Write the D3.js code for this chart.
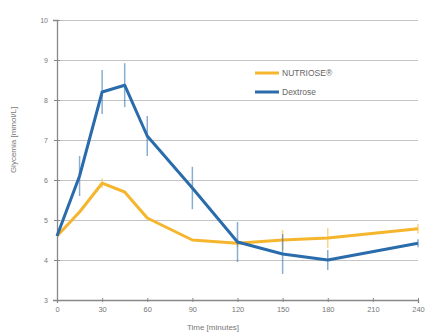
<!DOCTYPE html>
<html>
<head>
<meta charset="utf-8">
<script src="https://cdn.jsdelivr.net/npm/d3@7"></script>
<style>
  body { margin: 0; background: #fff; }
  text { font-family: "Liberation Sans", Arial, sans-serif; }
</style>
</head>
<body>
<div id="graph"></div>
<script>
// data
var times = [0, 15, 30, 45, 60, 90, 120, 150, 180, 240];
var nutrioseMean = [4.6, 5.2, 5.92, 5.7, 5.05, 4.5, 4.42, 4.5, 4.55, 4.78];
var nutrioseErr  = [0, 0, 0.12, 0, 0, 0, 0.1, 0.25, 0.25, 0.12];
var dextroseMean = [4.6, 6.1, 8.2, 8.37, 7.1, 5.8, 4.45, 4.15, 4.0, 4.42];
var dextroseErr  = [0, 0.5, 0.55, 0.55, 0.5, 0.53, 0.5, 0.5, 0.25, 0.1];
var xTicks = [0, 30, 60, 90, 120, 150, 180, 210, 240];
var yTicks = [3, 4, 5, 6, 7, 8, 9, 10];
var seriesNames = ["NUTRIOSE\u00ae", "Dextrose"];

var W = 427, H = 334;
var margin = {top: 20, right: 9, bottom: 34, left: 57},
    width = W - margin.left - margin.right,
    height = H - margin.top - margin.bottom;

var x = d3.scaleLinear().domain([0, 240]).range([0, width]);
var y = d3.scaleLinear().domain([3, 10]).range([height, 0]);

var svg = d3.select("#graph").append("svg")
    .attr("width", W)
    .attr("height", H)
  .append("g")
    .attr("transform", "translate(" + margin.left + "," + margin.top + ")");

// gridlines
svg.append("g")
    .attr("class", "grid")
    .call(d3.axisLeft(y).tickValues(yTicks.slice(1)).tickSize(-width).tickFormat(""))
    .call(g => g.select(".domain").remove())
    .call(g => g.selectAll("line").attr("stroke", "#c4c4c4").attr("stroke-width", 1.2));

// y axis
svg.append("g")
    .call(d3.axisLeft(y).tickValues(yTicks).tickFormat(d3.format("d")).tickSize(4).tickPadding(5))
    .call(g => g.select(".domain").attr("stroke", "#888").attr("stroke-width", 1.3))
    .call(g => g.selectAll("line").attr("stroke", "#888").attr("x2", 3).attr("x1", -3))
    .call(g => g.selectAll("text").attr("fill", "#777").style("font-size", "7px"));

// x axis
svg.append("g")
    .attr("transform", "translate(0," + height + ")")
    .call(d3.axisBottom(x).tickValues(xTicks).tickSize(3).tickPadding(4))
    .call(g => g.select(".domain").attr("stroke", "#888").attr("stroke-width", 1.3))
    .call(g => g.selectAll("line").attr("stroke", "#888").attr("y1", -2).attr("y2", 2))
    .call(g => g.selectAll("text").attr("fill", "#777").style("font-size", "7.5px"));

// axis labels
svg.append("text")
    .attr("x", 156)
    .attr("y", height + 30)
    .attr("text-anchor", "middle")
    .attr("fill", "#777")
    .style("font-size", "8px")
    .text("Time [minutes]");

svg.append("text")
    .attr("transform", "rotate(-90)")
    .attr("x", -(height / 2) + 20)
    .attr("y", -41)
    .attr("text-anchor", "middle")
    .attr("fill", "#777")
    .style("font-size", "8px")
    .text("Glycemia [mmol/L]");

var series = [
  {name: seriesNames[0], mean: nutrioseMean, err: nutrioseErr, color: "#f5b52c"},
  {name: seriesNames[1], mean: dextroseMean, err: dextroseErr, color: "#2a6cab"}
];

var line = d3.line()
    .x(function(d) { return x(d.t); })
    .y(function(d) { return y(d.v); });

series.forEach(function(s) {
  var pts = times.map(function(t, i) { return {t: t, v: s.mean[i], e: s.err[i]}; });

  // error bars
  svg.selectAll(null)
      .data(pts.filter(function(d) { return d.e > 0; }))
      .enter().append("line")
      .attr("x1", function(d) { return x(d.t); })
      .attr("x2", function(d) { return x(d.t); })
      .attr("y1", function(d) { return y(d.v - d.e); })
      .attr("y2", function(d) { return y(d.v + d.e); })
      .attr("stroke", s.color)
      .attr("stroke-opacity", 0.55)
      .attr("stroke-width", 1.5);

  svg.append("path")
      .datum(pts)
      .attr("fill", "none")
      .attr("stroke", s.color)
      .attr("stroke-width", 3)
      .attr("stroke-linejoin", "round")
      .attr("d", line);
});

// legend
var legend = svg.append("g").attr("transform", "translate(198,53)");
series.forEach(function(s, i) {
  legend.append("line")
      .attr("x1", 0).attr("x2", 24)
      .attr("y1", i * 19).attr("y2", i * 19)
      .attr("stroke", s.color)
      .attr("stroke-width", 3);
  legend.append("text")
      .attr("x", 27)
      .attr("y", i * 19 + 3)
      .attr("fill", "#666")
      .style("font-size", "8.5px")
      .text(s.name);
});
</script>
</body>
</html>
